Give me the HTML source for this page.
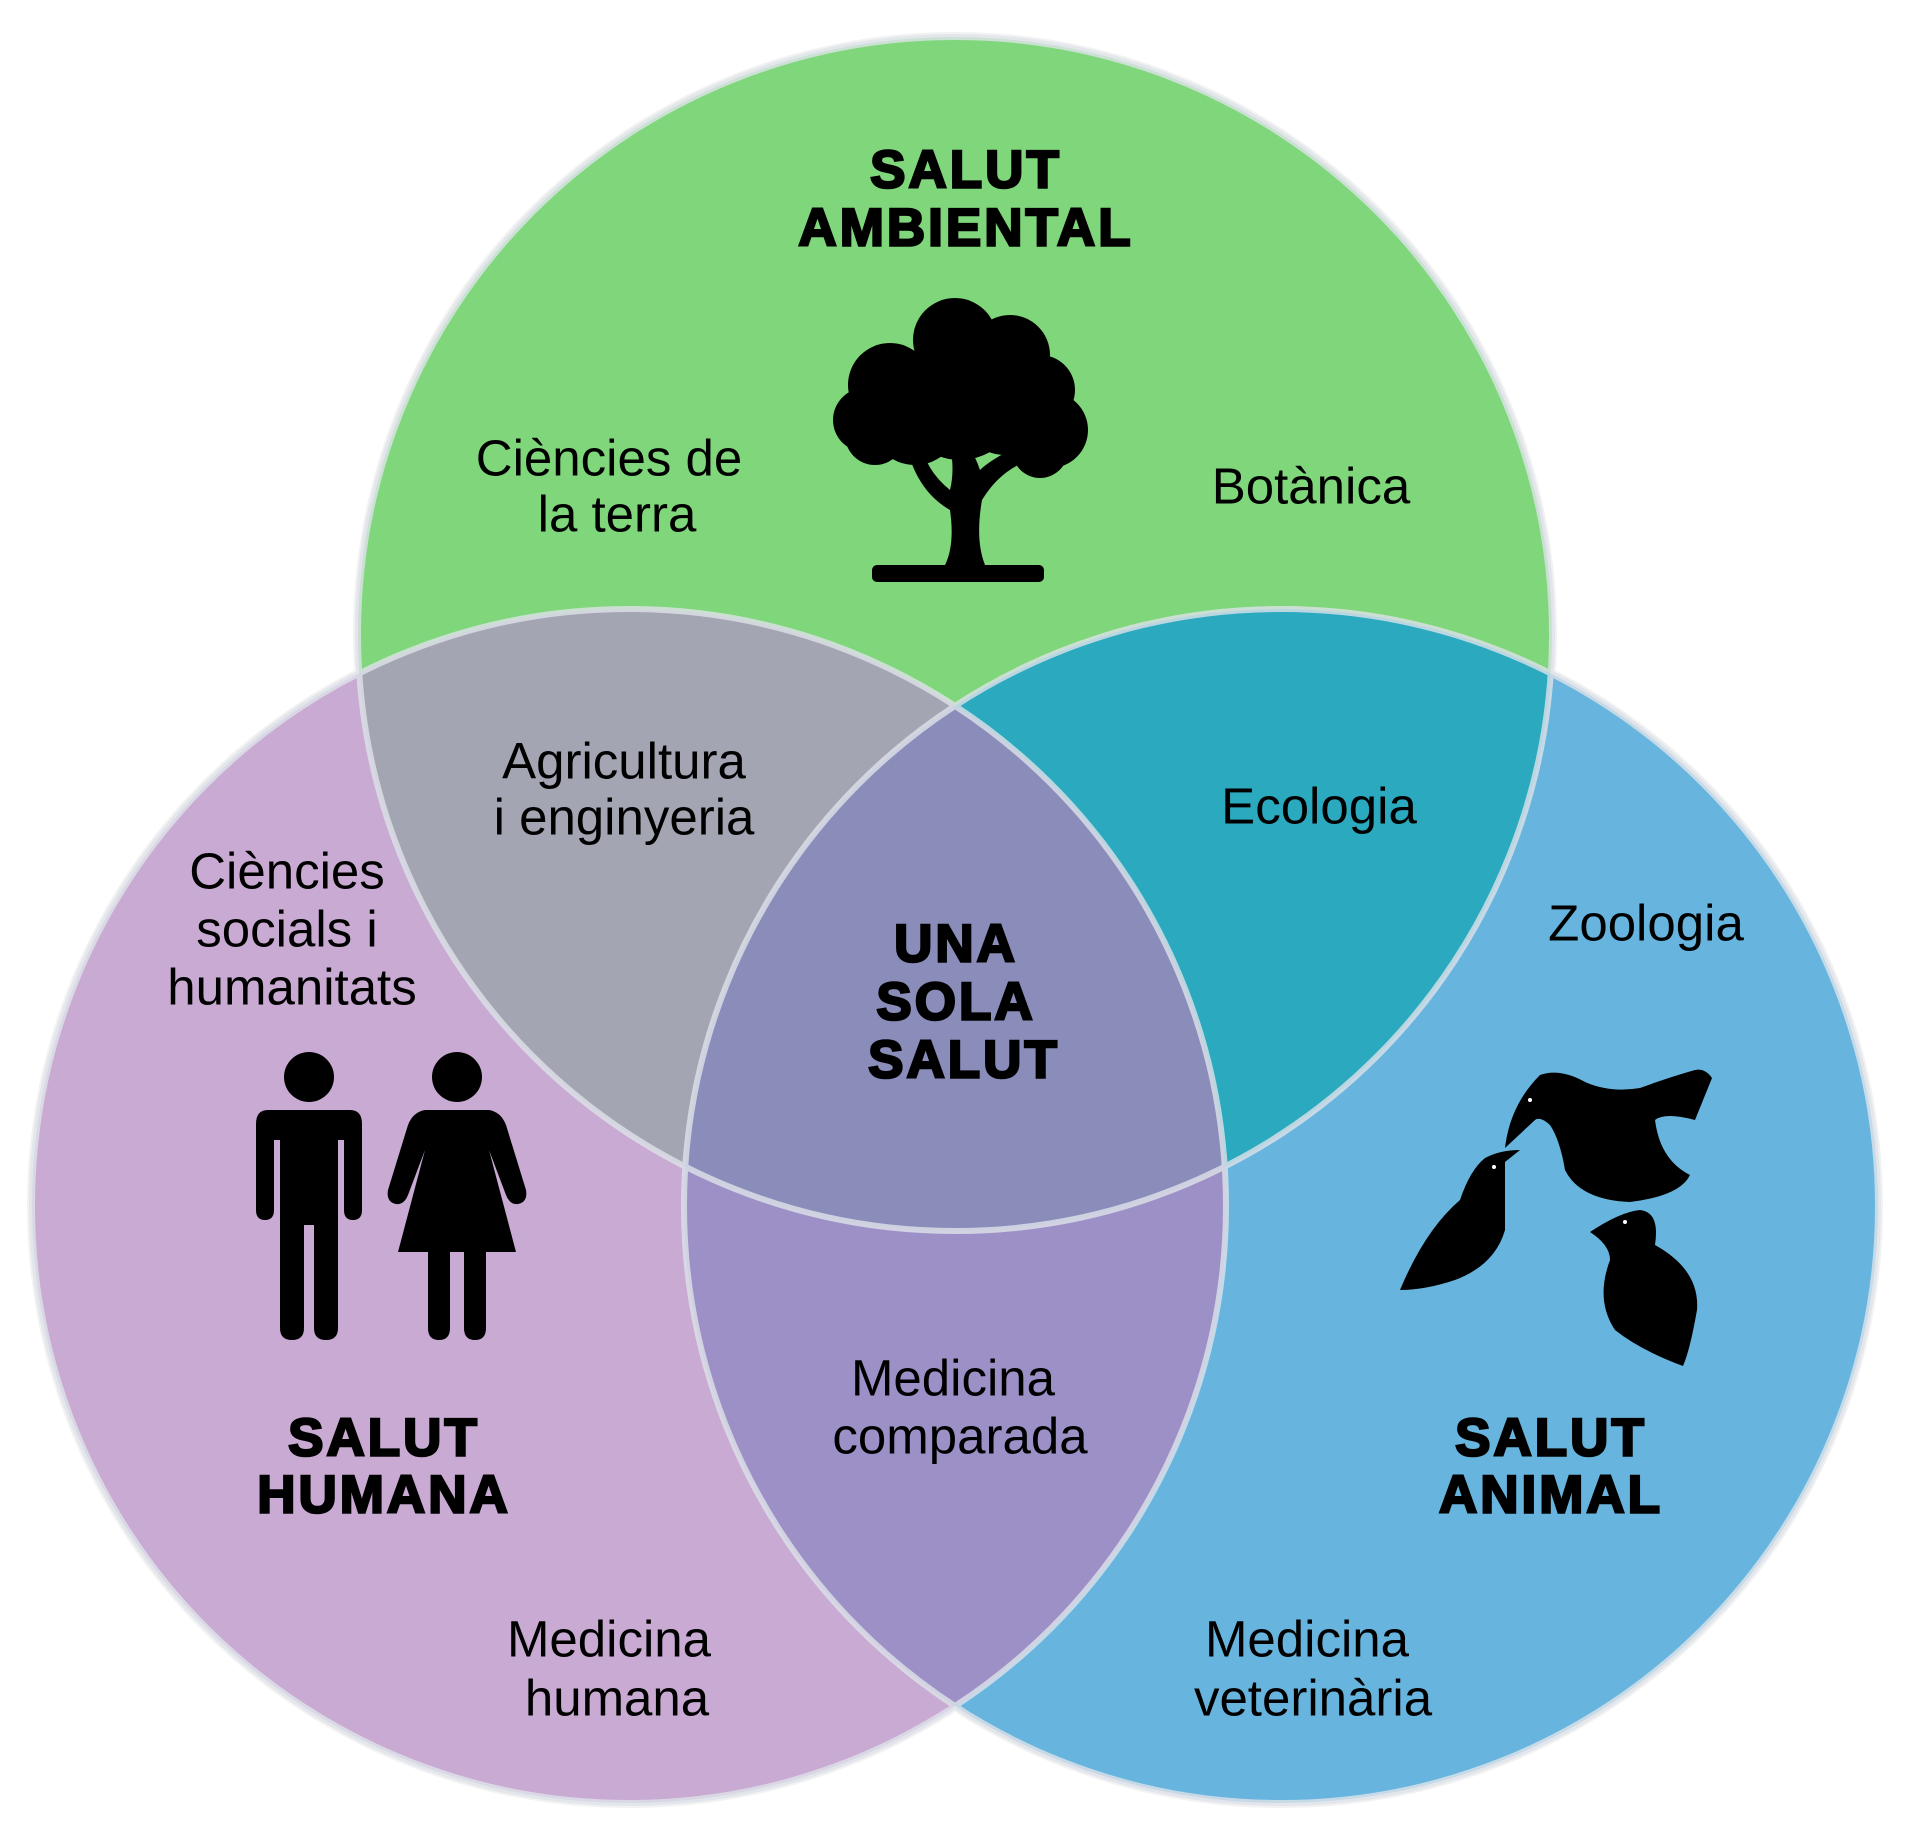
<!DOCTYPE html>
<html><head><meta charset="utf-8"><style>
html,body{margin:0;padding:0;background:#fff}
svg{display:block}
text{font-family:"Liberation Sans",Arial,sans-serif;fill:#000;text-anchor:middle;dominant-baseline:central}
.b{font-weight:bold;font-size:53px;letter-spacing:3px;stroke:#000;stroke-width:2.5px}
.n{font-size:51px}
</style></head><body>
<svg width="1920" height="1836" viewBox="0 0 1920 1836">
<defs>
<clipPath id="cg"><circle cx="955" cy="634" r="597"/></clipPath>
<clipPath id="cp"><circle cx="629" cy="1206" r="597"/></clipPath>
<clipPath id="cb"><circle cx="1281" cy="1206" r="597"/></clipPath>
</defs>
<rect width="1920" height="1836" fill="#fff"/>
<circle cx="955" cy="634" r="602" fill="#f2f2f2"/>
<circle cx="629" cy="1206" r="602" fill="#f2f2f2"/>
<circle cx="1281" cy="1206" r="602" fill="#f2f2f2"/>
<circle cx="955" cy="634" r="597" fill="#7fd67b"/>
<circle cx="629" cy="1206" r="597" fill="#c8aad2"/>
<circle cx="1281" cy="1206" r="597" fill="#67b5de"/>
<g clip-path="url(#cg)"><circle cx="629" cy="1206" r="597" fill="#a3a5b2"/><circle cx="1281" cy="1206" r="597" fill="#2aa9bf"/></g>
<g clip-path="url(#cp)"><circle cx="1281" cy="1206" r="597" fill="#9d90c6"/></g>
<g clip-path="url(#cp)"><g clip-path="url(#cb)"><circle cx="955" cy="634" r="597" fill="#8a8cba"/></g></g>
<g fill="none" stroke="#dfe3ea" stroke-width="6" opacity="0.8">
<circle cx="629" cy="1206" r="597"/><circle cx="1281" cy="1206" r="597"/><circle cx="955" cy="634" r="597"/>
</g>
<!-- tree -->
<g fill="#000">
<circle cx="955" cy="340" r="42"/><circle cx="1010" cy="355" r="40"/><circle cx="1040" cy="390" r="35"/>
<circle cx="1050" cy="430" r="38"/><circle cx="1040" cy="450" r="28"/><circle cx="890" cy="385" r="42"/>
<circle cx="865" cy="420" r="32"/><circle cx="875" cy="435" r="30"/><circle cx="960" cy="400" r="60"/>
<circle cx="1005" cy="410" r="45"/><circle cx="915" cy="420" r="45"/>
<path d="M905 440 Q915 490 950 510 Q955 545 945 565 L985 565 Q975 540 982 500 Q1000 470 1030 460 L1020 445 Q990 460 980 470 Q975 455 965 440 L950 445 Q955 470 950 490 Q925 470 920 440Z"/>
<rect x="872" y="565" width="172" height="17" rx="5"/>
</g>
<!-- people -->
<g fill="#000">
<circle cx="309" cy="1077" r="25"/>
<path d="M268 1110 Q256 1110 256 1124 L256 1210 Q256 1220 265 1220 Q274 1220 274 1210 L274 1140 L280 1140 L280 1328 Q280 1340 292 1340 Q304 1340 304 1328 L304 1225 L314 1225 L314 1328 Q314 1340 326 1340 Q338 1340 338 1328 L338 1140 L344 1140 L344 1210 Q344 1220 353 1220 Q362 1220 362 1210 L362 1124 Q362 1110 350 1110Z"/>
<circle cx="457" cy="1077" r="25"/>
<path d="M425 1110 Q413 1112 408 1125 L388 1190 Q386 1202 396 1204 Q404 1205 408 1195 L425 1150 L398 1252 L428 1252 L428 1328 Q428 1340 439 1340 Q450 1340 450 1328 L450 1252 L464 1252 L464 1328 Q464 1340 475 1340 Q486 1340 486 1328 L486 1252 L516 1252 L489 1150 L506 1195 Q510 1205 518 1204 Q528 1202 526 1190 L506 1125 Q501 1112 489 1110Z"/>
</g>
<!-- birds -->
<g fill="#000">
<path d="M1505 1148 Q1510 1105 1540 1075 Q1560 1068 1585 1082 Q1610 1093 1640 1088 Q1670 1077 1695 1070 Q1705 1068 1712 1078 L1695 1120 Q1665 1112 1655 1120 Q1660 1160 1690 1175 Q1680 1196 1630 1202 Q1580 1200 1565 1170 Q1560 1140 1550 1125 Q1540 1116 1535 1120 Z"/>
<path d="M1400 1290 Q1425 1230 1460 1200 Q1470 1170 1485 1158 Q1500 1150 1520 1150 L1505 1162 Q1505 1195 1505 1230 Q1495 1265 1455 1280 Q1425 1290 1400 1290Z"/>
<path d="M1590 1232 Q1620 1212 1640 1210 Q1660 1212 1655 1245 Q1700 1270 1697 1310 Q1690 1350 1683 1366 Q1640 1350 1615 1330 Q1595 1300 1610 1260 Q1610 1245 1590 1232Z"/>
</g>
<g fill="#fff"><circle cx="1530" cy="1100" r="2"/><circle cx="1494" cy="1167" r="2"/><circle cx="1625" cy="1222" r="2"/></g>
<!-- text -->
<text class="b" x="966" y="170">SALUT</text>
<text class="b" x="966" y="228">AMBIENTAL</text>
<text class="n" x="609" y="458">Ciències de</text>
<text class="n" x="617" y="514">la terra</text>
<text class="n" x="1311" y="486">Botànica</text>
<text class="n" x="624" y="761">Agricultura</text>
<text class="n" x="624" y="817">i enginyeria</text>
<text class="n" x="1319" y="806">Ecologia</text>
<text class="n" x="287" y="871">Ciències</text>
<text class="n" x="287" y="929">socials i</text>
<text class="n" x="292" y="987">humanitats</text>
<text class="n" x="1646" y="923">Zoologia</text>
<text class="b" x="956" y="944">UNA</text>
<text class="b" x="956" y="1002">SOLA</text>
<text class="b" x="964" y="1060">SALUT</text>
<text class="b" x="384" y="1438">SALUT</text>
<text class="b" x="384" y="1495">HUMANA</text>
<text class="b" x="1551" y="1438">SALUT</text>
<text class="b" x="1551" y="1495">ANIMAL</text>
<text class="n" x="953" y="1378">Medicina</text>
<text class="n" x="960" y="1436">comparada</text>
<text class="n" x="609" y="1639">Medicina</text>
<text class="n" x="617" y="1698">humana</text>
<text class="n" x="1307" y="1639">Medicina</text>
<text class="n" x="1313" y="1698">veterinària</text>
</svg>
</body></html>
